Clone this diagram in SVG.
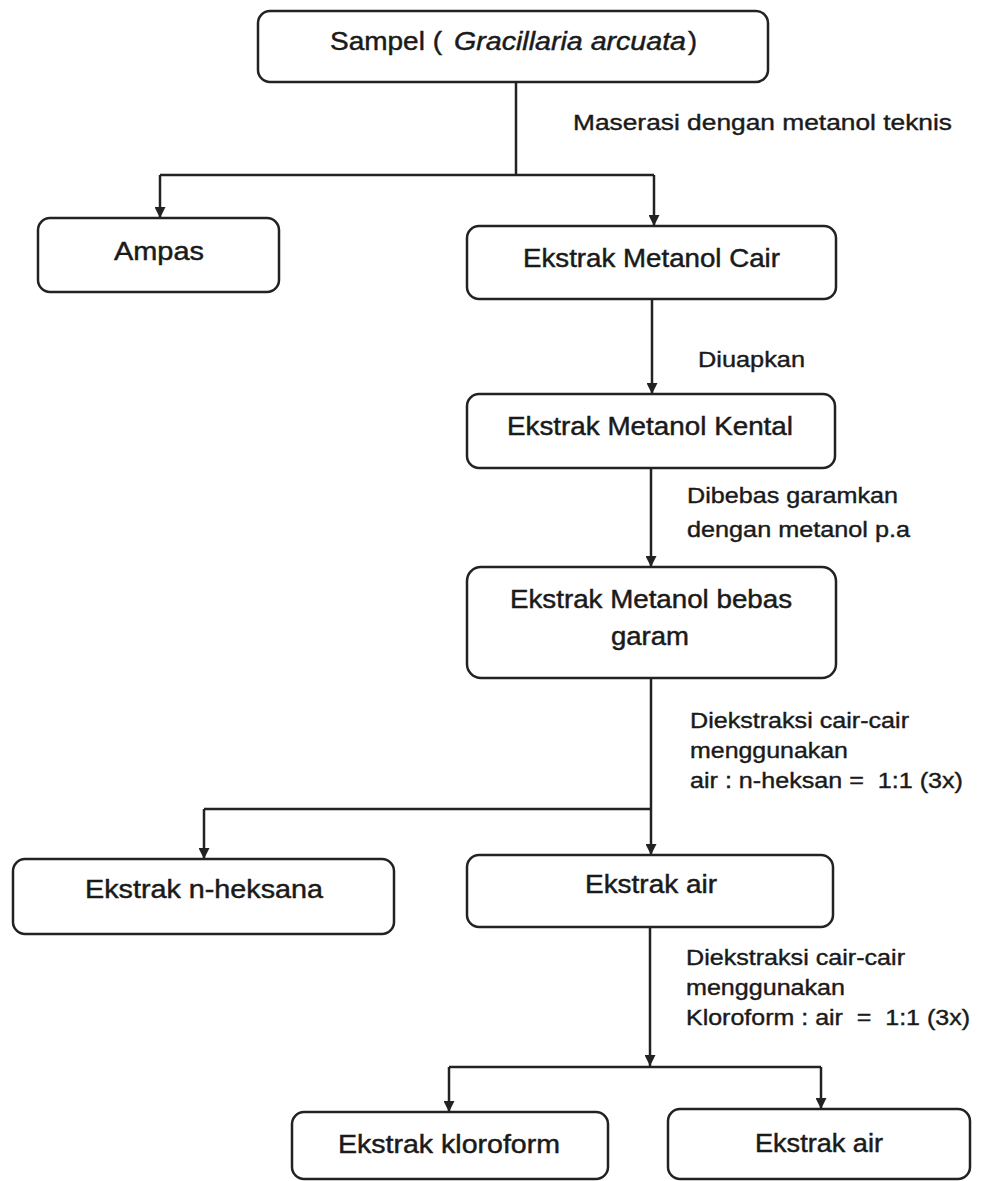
<svg xmlns="http://www.w3.org/2000/svg" width="993" height="1181" viewBox="0 0 993 1181">
<style>
.box{fill:#fff;stroke:#222;stroke-width:2.5}
.t{font-family:"Liberation Sans",Arial,sans-serif;font-size:25px;fill:#1a1a1a;stroke:#1a1a1a;stroke-width:0.45}
.l{font-family:"Liberation Sans",Arial,sans-serif;font-size:22.5px;fill:#1a1a1a;stroke:#1a1a1a;stroke-width:0.4}
.c{fill:none;stroke:#222;stroke-width:2.5}
</style>
<defs>
<marker id="ah" viewBox="0 0 10 10" refX="10" refY="5" markerWidth="12" markerHeight="11" orient="auto" markerUnits="userSpaceOnUse">
<path d="M0,0 L10,5 L0,10 z" fill="#222"/>
</marker>
</defs>
<rect width="993" height="1181" fill="#fff"/>
<g id="connectors">
<path class="c" d="M516,82 V175"/>
<path class="c" d="M160,175 H654"/>
<path class="c" d="M160,175 V218" marker-end="url(#ah)"/>
<path class="c" d="M654,175 V226" marker-end="url(#ah)"/>
<path class="c" d="M652,299 V394" marker-end="url(#ah)"/>
<path class="c" d="M651,468 V567" marker-end="url(#ah)"/>
<path class="c" d="M651,678 V855" marker-end="url(#ah)"/>
<path class="c" d="M204,809 H651"/>
<path class="c" d="M204,809 V859" marker-end="url(#ah)"/>
<path class="c" d="M650,927 V1066" marker-end="url(#ah)"/>
<path class="c" d="M449,1067 H821"/>
<path class="c" d="M449,1067 V1112" marker-end="url(#ah)"/>
<path class="c" d="M821,1067 V1109" marker-end="url(#ah)"/>
<text class="l" x="573" y="130" textLength="379" lengthAdjust="spacingAndGlyphs">Maserasi dengan metanol teknis</text>
<text class="l" x="698" y="367" textLength="107" lengthAdjust="spacingAndGlyphs">Diuapkan</text>
<text class="l" x="687" y="503" textLength="211" lengthAdjust="spacingAndGlyphs">Dibebas garamkan</text>
<text class="l" x="687" y="537" textLength="223" lengthAdjust="spacingAndGlyphs">dengan metanol p.a</text>
<text class="l" x="690" y="728" textLength="219" lengthAdjust="spacingAndGlyphs">Diekstraksi cair-cair</text>
<text class="l" x="690" y="758" textLength="158" lengthAdjust="spacingAndGlyphs">menggunakan</text>
<text class="l" x="690" y="788" textLength="273" lengthAdjust="spacingAndGlyphs" xml:space="preserve">air : n-heksan =  1:1 (3x)</text>
<text class="l" x="686" y="965" textLength="219" lengthAdjust="spacingAndGlyphs">Diekstraksi cair-cair</text>
<text class="l" x="686" y="995" textLength="159" lengthAdjust="spacingAndGlyphs">menggunakan</text>
<text class="l" x="686" y="1025" textLength="284" lengthAdjust="spacingAndGlyphs" xml:space="preserve">Kloroform : air  =  1:1 (3x)</text>
</g>
<g id="sampel">
<rect class="box" x="258" y="11" width="510" height="71" rx="12"/>
<text class="t" y="50"><tspan x="330" textLength="112" lengthAdjust="spacingAndGlyphs">Sampel (</tspan><tspan x="454" font-style="italic" textLength="232" lengthAdjust="spacingAndGlyphs">Gracillaria arcuata</tspan><tspan x="688" textLength="9" lengthAdjust="spacingAndGlyphs">)</tspan></text>
</g>
<g id="ampas">
<rect class="box" x="38" y="218" width="241" height="74" rx="12"/>
<text class="t" x="114" y="260" textLength="90" lengthAdjust="spacingAndGlyphs">Ampas</text>
</g>
<g id="metanol-cair">
<rect class="box" x="467" y="226" width="369" height="73" rx="12"/>
<text class="t" x="523" y="267" textLength="257" lengthAdjust="spacingAndGlyphs">Ekstrak Metanol Cair</text>
</g>
<g id="metanol-kental">
<rect class="box" x="467" y="394" width="368" height="74" rx="12"/>
<text class="t" x="507" y="435" textLength="286" lengthAdjust="spacingAndGlyphs">Ekstrak Metanol Kental</text>
</g>
<g id="metanol-bebas">
<rect class="box" x="467" y="567" width="369" height="111" rx="14"/>
<text class="t" x="510" y="608" textLength="282" lengthAdjust="spacingAndGlyphs">Ekstrak Metanol bebas</text>
<text class="t" x="611" y="645" textLength="78" lengthAdjust="spacingAndGlyphs">garam</text>
</g>
<g id="n-heksana">
<rect class="box" x="13" y="859" width="381" height="75" rx="12"/>
<text class="t" x="85" y="898" textLength="238" lengthAdjust="spacingAndGlyphs">Ekstrak n-heksana</text>
</g>
<g id="air-1">
<rect class="box" x="467" y="855" width="366" height="72" rx="12"/>
<text class="t" x="585" y="893" textLength="132" lengthAdjust="spacingAndGlyphs">Ekstrak air</text>
</g>
<g id="kloroform">
<rect class="box" x="292" y="1112" width="316" height="67" rx="12"/>
<text class="t" x="338" y="1153" textLength="222" lengthAdjust="spacingAndGlyphs">Ekstrak kloroform</text>
</g>
<g id="air-2">
<rect class="box" x="668" y="1109" width="302" height="70" rx="12"/>
<text class="t" x="755" y="1152" textLength="128" lengthAdjust="spacingAndGlyphs">Ekstrak air</text>
</g>
</svg>
